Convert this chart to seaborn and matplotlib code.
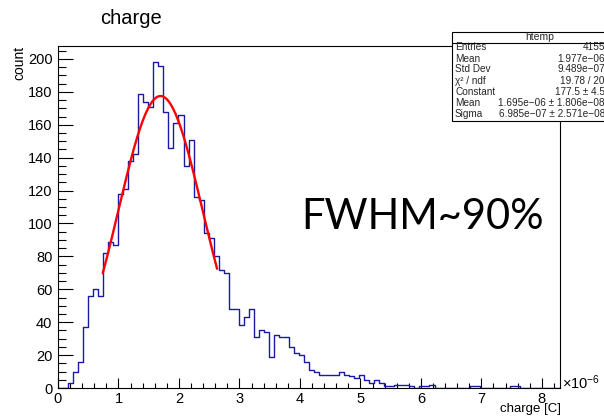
import numpy as np
import pandas as pd
import matplotlib
matplotlib.use("Agg")
import matplotlib.pyplot as plt
import seaborn as sns
from matplotlib.ticker import MultipleLocator
from matplotlib.patches import Rectangle
from matplotlib.lines import Line2D

sns.set_theme(style="ticks")
plt.rcParams["font.family"] = ["Liberation Sans", "DejaVu Sans"]
plt.rcParams["mathtext.fontset"] = "custom"
plt.rcParams["mathtext.rm"] = "Liberation Sans"
plt.rcParams["mathtext.it"] = "Liberation Sans:italic"
plt.rcParams["mathtext.bf"] = "Liberation Sans:bold"

# ---- histogram of charge (units of 1e-6 C), 100 bins from 0 to 8.3 ----
x_min, x_max, n_bins = 0.0, 8.3, 100
counts = [
    0, 0, 3, 10, 16, 37, 56, 60, 56, 82,
    89, 87, 118, 121, 138, 142, 179, 174, 171, 198,
    196, 168, 146, 161, 166, 135, 151, 116, 114, 94,
    91, 80, 72, 70, 48, 48, 38, 43, 48, 31,
    35, 34, 19, 32, 31, 31, 25, 21, 20, 16,
    11, 10, 8, 8, 8, 8, 10, 8, 7, 6,
    8, 5, 3, 5, 3, 1, 1, 2, 2, 2,
    1, 0, 1, 1, 2, 0, 0, 0, 0, 0,
    0, 0, 1, 1, 0, 0, 0, 0, 0, 0,
    1, 1, 0, 0, 0, 0, 0, 0, 0, 0,
]

# ---- gaussian fit result ----
fit_constant = 177.5
fit_mean = 1.695      # x 1e-6
fit_sigma = 0.6985    # x 1e-6
fit_lo, fit_hi = 0.74, 2.63

# ---- statistics box ----
stats_title = "htemp"
stats_labels = ["Entries", "Mean", "Std Dev", "\u03c7\u00b2 / ndf",
                "Constant", "Mean", "Sigma"]
stats_values = ["4155", "1.977e\u221206", "9.489e\u221207", "19.78 / 20",
                "177.5 \u00b1 4.5", "1.695e\u221206 \u00b1 1.806e\u221208",
                "6.985e\u221207 \u00b1 2.571e\u221208"]

y_ticks = list(range(0, 201, 20))
x_ticks = list(range(0, 9))

edges = np.linspace(x_min, x_max, n_bins + 1)
centers = 0.5 * (edges[:-1] + edges[1:])
df = pd.DataFrame({"charge": centers, "count": counts})

W, H = 604, 416
fig = plt.figure(figsize=(W / 100, H / 100), dpi=100)
fig.patch.set_facecolor("white")

L, R, T, B = 58, 560, 46, 388
ax = fig.add_axes([L / W, 1 - B / H, (R - L) / W, (B - T) / H])
ax.set_facecolor("white")

sns.histplot(data=df, x="charge", weights="count", bins=n_bins,
             binrange=(x_min, x_max), element="step", fill=False,
             color="#1a1aa6", linewidth=1.0, ax=ax)

xf = np.linspace(fit_lo, fit_hi, 300)
yf = fit_constant * np.exp(-0.5 * ((xf - fit_mean) / fit_sigma) ** 2)
sns.lineplot(x=xf, y=yf, color="#ff0000", linewidth=1.7, ax=ax)

ax.set_xlim(x_min, x_max)
ax.set_ylim(0, 1.05 * max(counts))
ax.set_xlabel("")
ax.set_ylabel("")
ax.set_xticks(x_ticks)
ax.set_yticks(y_ticks)
ax.xaxis.set_minor_locator(MultipleLocator(0.2))
ax.yaxis.set_minor_locator(MultipleLocator(5))
ax.tick_params(axis="x", which="major", direction="in", length=7.2,
               width=0.8, color="black", labelsize=10.5, pad=3,
               labelcolor="black")
ax.tick_params(axis="x", which="minor", direction="in", length=3.6,
               width=0.8, color="black")
ax.tick_params(axis="y", which="major", direction="in", length=10.8,
               width=0.8, color="black", labelsize=10.5, pad=4,
               labelcolor="black")
ax.tick_params(axis="y", which="minor", direction="in", length=5.4,
               width=0.8, color="black")
for s in ax.spines.values():
    s.set_visible(True)
    s.set_color("black")
    s.set_linewidth(0.8)

def fx(px):
    return px / W

def fy(py):
    return 1 - py / H

# titles
fig.text(fx(100), fy(19), "charge", fontsize=14.5, ha="left", va="center",
         color="black")
fig.text(fx(19), fy(46), "count", fontsize=10, rotation=90, ha="center",
         va="top", color="black")
fig.text(fx(561), fy(415), "charge [C]", fontsize=9.5, ha="right",
         va="bottom", color="black")
fig.text(fx(562), fy(383), r"$\times10^{-6}$", fontsize=10.5, ha="left",
         va="center", color="black")

# statistics box
bx0, by0, bx1, by1 = 452, 32, 640, 121
fig.patches.append(Rectangle((fx(bx0), fy(by1)), (bx1 - bx0) / W,
                             (by1 - by0) / H, transform=fig.transFigure,
                             facecolor="white", edgecolor="black",
                             linewidth=0.8, zorder=5))
fig.lines.append(Line2D([fx(bx0), fx(bx1)], [fy(42.5), fy(42.5)],
                        transform=fig.transFigure, color="black",
                        linewidth=0.8, zorder=6))
fig.text(fx(540), fy(37), stats_title, fontsize=7.5, ha="center",
         va="center", zorder=7)
row_y = [47.5, 58.5, 69.5, 81, 92, 103, 114]
for lab, val, yy in zip(stats_labels, stats_values, row_y):
    fig.text(fx(455), fy(yy), lab, fontsize=7.2, ha="left", va="center",
             zorder=7)
    fig.text(fx(605), fy(yy), val, fontsize=7.2, ha="right", va="center",
             zorder=7)

# annotation
fig.text(fx(301), fy(217), "FWHM~90%", fontsize=30, ha="left",
         va="center", color="black", family=["Lato", "DejaVu Sans"])

fig.savefig("out.png", dpi=100, facecolor="white")
